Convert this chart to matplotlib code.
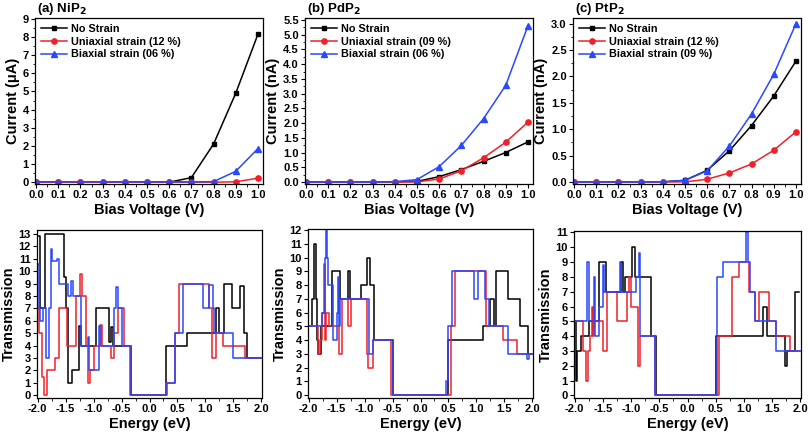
import matplotlib
matplotlib.use("Agg")
import matplotlib.pyplot as plt
import numpy as np
from matplotlib.ticker import MultipleLocator, AutoMinorLocator

plt.rcParams['font.family'] = ['Liberation Sans', 'DejaVu Sans']
plt.rcParams['font.weight'] = 'bold'
plt.rcParams['axes.unicode_minus'] = False

BLACK = '#000000'
RED = '#f0202a'
BLUE = '#2a48ff'

# ---------------- I-V data ----------------
bias = [0.0, 0.1, 0.2, 0.3, 0.4, 0.5, 0.6, 0.7, 0.8, 0.9, 1.0]

nip2_none = [0, 0, 0, 0, 0, 0, 0, 0.25, 2.1, 4.9, 8.15]
nip2_uni = [0, 0, 0, 0, 0, 0, 0, 0, 0, 0.02, 0.22]
nip2_bi = [0.02, 0.02, 0.02, 0.02, 0.02, 0.02, 0.02, 0.02, 0.03, 0.6, 1.85]

pdp2_none = [0, 0, 0, 0, 0, 0.02, 0.18, 0.42, 0.7, 1.0, 1.36]
pdp2_uni = [0, 0, 0, 0, 0, 0, 0.1, 0.38, 0.82, 1.35, 2.03]
pdp2_bi = [0, 0, 0, 0, 0.01, 0.08, 0.52, 1.24, 2.15, 3.28, 5.3]

ptp2_none = [0, 0, 0, 0, 0, 0.03, 0.22, 0.59, 1.07, 1.63, 2.29]
ptp2_uni = [0, 0, 0, 0, 0, 0, 0.05, 0.17, 0.34, 0.6, 0.95]
ptp2_bi = [0, 0, 0, 0, 0, 0.03, 0.21, 0.68, 1.29, 2.04, 3.0]

top_titles = ['(a) NiP$_\\mathbf{2}$', '(b) PdP$_\\mathbf{2}$', '(c) PtP$_\\mathbf{2}$']
top_ylabels = ['Current (\u03bcA)', 'Current (nA)', 'Current (nA)']
legend_uni = ['Uniaxial strain (12 %)', 'Uniaxial strain (09 %)', 'Uniaxial strain (12 %)']
legend_bi = ['Biaxial strain (06 %)', 'Biaxial strain (06 %)', 'Biaxial strain (09 %)']

# ---------------- Transmission data (step breakpoints, value holds until next) ----------------
# NiP2
ni_blk_E = [-2.00, -1.95, -1.87, -1.53, -1.50, -1.45, -1.38, -1.26, -1.23, -0.95, -0.72, -0.69, -0.66,
            -0.33, 0.30, 0.67, 1.19, 1.25, 1.33, 1.48, 1.62, 1.68, 1.74, 2.00]
ni_blk_T = [12.8, 7, 13, 9.5, 7, 1, 2, 5.6, 4, 7, 4.3, 5.5, 4,
            0, 4, 5, 7, 5, 9, 7, 8.8, 5, 3, 3]
ni_red_E = [-2.00, -1.98, -1.92, -1.89, -1.84, -1.68, -1.62, -1.47, -1.32, -1.245, -1.21, -1.14, -1.09,
            -1.06, -1.00, -0.88, -0.85, -0.68, -0.64, -0.56, -0.46, -0.35, 0.30, 0.46, 0.53, 1.07,
            1.12, 1.18, 1.31, 1.71, 2.00]
ni_red_T = [7, 5, 1.5, 0, 2, 3, 7, 4, 8, 9.8, 8, 4, 1,
            2, 4, 5.7, 4, 3, 5, 7, 4, 0, 1, 5, 9, 7,
            3, 5, 4, 3, 3]
ni_blu_E = [-2.00, -1.98, -1.95, -1.90, -1.85, -1.80, -1.76, -1.74, -1.66, -1.62, -1.45, -1.40, -1.37,
            -1.22, -1.10, -1.08, -0.90, -0.86, -0.63, -0.59, -0.56, -0.50, -0.33, 0.32, 0.46, 0.60,
            0.96, 1.07, 1.13, 1.16, 1.50, 2.00]
ni_blu_T = [10.6, 7, 6, 7, 3, 7, 11.8, 10.8, 11, 9, 8, 9.2, 8,
            4, 4.7, 2, 5.6, 4, 7, 8.7, 7, 4, 0, 1, 5, 9,
            7, 8.9, 7, 5, 3, 3]

# PdP2
pd_blk_E = [-2.00, -1.93, -1.90, -1.87, -1.85, -1.84, -1.78, -1.58, -1.43, -1.29, -1.26, -1.06, -0.95,
            -0.91, -0.83, -0.50, 0.50, 1.12, 1.25, 1.31, 1.35, 1.56, 1.77, 1.92, 2.00]
pd_blk_T = [5, 7, 11, 7, 4, 3, 5, 9, 7, 9, 7, 8, 10,
            8, 4, 0, 4, 5, 7, 5, 9, 7, 5, 3, 3]
pd_red_E = [-2.00, -1.83, -1.79, -1.76, -1.73, -1.71, -1.69, -1.64, -1.45, -1.41, -1.30, -1.24, -0.96,
            -0.94, -0.84, -0.53, 0.55, 0.61, 1.17, 1.47, 1.72, 2.00]
pd_red_T = [5, 3, 4, 6, 9.5, 4, 6, 5, 3, 7, 5, 7, 3,
            2, 4, 0, 5, 9, 5, 4, 3, 3]
pd_blu_E = [-2.00, -1.76, -1.71, -1.69, -1.67, -1.65, -1.57, -1.50, -1.47, -1.46, -1.44, -0.92, -0.84,
            -0.49, 0.46, 0.50, 0.56, 0.96, 1.02, 1.16, 1.22, 1.56, 1.91, 1.93, 2.00]
pd_blu_T = [5, 6, 10, 12, 10, 8, 4, 6, 8.6, 5, 7, 3, 4,
            0, 1, 5, 9, 7, 9, 7, 5, 3, 2.6, 3, 3]

# PtP2
pt_blk_E = [-2.00, -1.98, -1.96, -1.88, -1.75, -1.56, -1.44, -1.18, -1.14, -1.10, -0.99, -0.93, -0.65,
            -0.55, 0.50, 1.33, 1.40, 1.72, 1.77, 1.90, 1.98]
pt_blk_T = [5, 1, 3, 4, 5, 9, 7, 9, 7, 8, 10, 8, 4,
            0, 4, 6, 4, 2, 3, 7, 7]
pt_red_E = [-2.00, -1.85, -1.79, -1.76, -1.72, -1.70, -1.68, -1.66, -1.49, -1.42, -1.25, -1.08, -1.04,
            -1.00, -0.87, -0.85, -0.57, 0.56, 0.78, 0.91, 1.09, 1.19, 1.27, 1.45, 1.57, 1.82, 2.00]
pt_red_T = [5, 3, 1, 3, 4, 6, 4, 5, 3, 7, 5, 7, 8,
            6, 2, 4, 0, 4, 8, 9, 7, 5, 7, 5, 4, 3, 3]
pt_blu_E = [-2.00, -1.78, -1.74, -1.66, -1.64, -1.56, -1.50, -1.48, -1.20, -1.17, -0.92, -0.86, -0.84,
            -0.57, 0.52, 0.63, 1.03, 1.07, 1.10, 1.20, 1.57, 2.00]
pt_blu_T = [5, 9, 5, 8, 4, 6, 8.8, 7, 9, 7, 8, 9.6, 4,
            0, 8, 9, 11, 9, 7, 5, 3, 3]

# ---------------- Figure ----------------
fig = plt.figure(figsize=(8.08, 4.33), dpi=100)
W, H = 808.0, 433.0

def ax_at(l, t, r, b):
    return fig.add_axes([l / W, 1 - b / H, (r - l) / W, (b - t) / H])

top_axes = [ax_at(35, 18, 263, 184), ax_at(305, 18, 533, 184), ax_at(573, 18, 801, 184)]
bot_axes = [ax_at(37, 230, 262, 398), ax_at(308, 229, 533, 398), ax_at(574, 231, 801, 398)]

iv_sets = [(nip2_none, nip2_uni, nip2_bi), (pdp2_none, pdp2_uni, pdp2_bi), (ptp2_none, ptp2_uni, ptp2_bi)]
ylims_top = [(-0.1, 9.05), (-0.07, 5.57), (-0.04, 3.11)]
ymaj_top = [1, 0.5, 0.5]
yfmt_top = ['%d', '%.1f', '%.1f']

TICK_FS = 8
LAB_FS = 10.5

for i, ax in enumerate(top_axes):
    none, uni, bi = iv_sets[i]
    ax.plot(bias, none, '-s', color=BLACK, lw=1.1, ms=3.5, label='No Strain')
    ax.plot(bias, uni, '-o', color=RED, lw=1.1, ms=3.8, label=legend_uni[i])
    ax.plot(bias, bi, '-^', color=BLUE, lw=1.1, ms=4, label=legend_bi[i])
    ax.set_xlim(-0.005, 1.023)
    ax.set_ylim(*ylims_top[i])
    ax.xaxis.set_major_locator(MultipleLocator(0.1))
    ax.xaxis.set_minor_locator(MultipleLocator(0.05))
    ax.yaxis.set_major_locator(MultipleLocator(ymaj_top[i]))
    ax.yaxis.set_minor_locator(AutoMinorLocator(2))
    ax.xaxis.set_major_formatter(matplotlib.ticker.FormatStrFormatter('%.1f'))
    ax.yaxis.set_major_formatter(matplotlib.ticker.FormatStrFormatter(yfmt_top[i]))
    ax.set_xlabel('Bias Voltage (V)', fontsize=LAB_FS, fontweight='bold', labelpad=2)
    ax.set_ylabel(top_ylabels[i], fontsize=LAB_FS, fontweight='bold', labelpad=2)
    ax.legend(loc='upper left', frameon=False, fontsize=7.8, handlelength=2.4,
              borderaxespad=0.15, labelspacing=0.25, handletextpad=0.4,
              prop={'weight': 'bold', 'size': 7.8})

titles_x = [37, 307, 575]
for i, t in enumerate(top_titles):
    fig.text(titles_x[i] / W, 1 - 12 / H, t, fontsize=9.5, fontweight='bold', ha='left', va='baseline')

trans_sets = [
    ((ni_blk_E, ni_blk_T), (ni_red_E, ni_red_T), (ni_blu_E, ni_blu_T)),
    ((pd_blk_E, pd_blk_T), (pd_red_E, pd_red_T), (pd_blu_E, pd_blu_T)),
    ((pt_blk_E, pt_blk_T), (pt_red_E, pt_red_T), (pt_blu_E, pt_blu_T)),
]
ylims_bot = [(-0.22, 13.32), (-0.2, 12.07), (-0.18, 11.1)]
ymax_tick = [13, 12, 11]

for i, ax in enumerate(bot_axes):
    for (E, T), c in zip(trans_sets[i], [BLACK, RED, BLUE]):
        ax.plot(E, T, drawstyle='steps-post', color=c, lw=1.1)
    ax.set_xlim(-2.01, 2.01)
    ax.set_ylim(*ylims_bot[i])
    ax.xaxis.set_major_locator(MultipleLocator(0.5))
    ax.xaxis.set_minor_locator(MultipleLocator(0.25))
    ax.set_yticks(np.arange(0, ymax_tick[i] + 1, 1))
    ax.xaxis.set_major_formatter(matplotlib.ticker.FormatStrFormatter('%.1f'))
    ax.set_xlabel('Energy (eV)', fontsize=LAB_FS, fontweight='bold', labelpad=2)
    ax.set_ylabel('Transmission', fontsize=LAB_FS, fontweight='bold', labelpad=2)

for ax in top_axes + bot_axes:
    ax.tick_params(which='both', direction='out', top=False, right=False,
                   labelsize=TICK_FS, pad=1.5)
    ax.tick_params(which='major', length=3, width=0.8)
    ax.tick_params(which='minor', length=1.8, width=0.6)
    for lab in ax.get_xticklabels() + ax.get_yticklabels():
        lab.set_fontweight('bold')
    for s in ax.spines.values():
        s.set_linewidth(0.9)

fig.savefig('out.png', dpi=100)
